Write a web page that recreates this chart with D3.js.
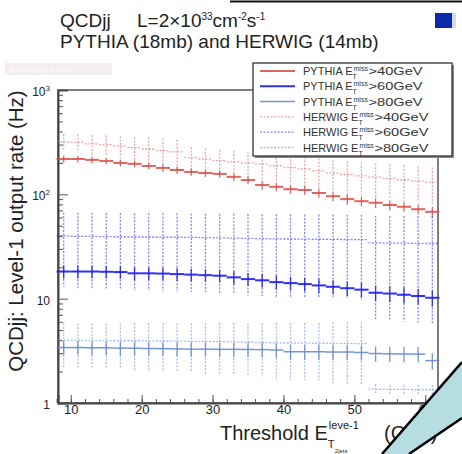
<!DOCTYPE html>
<html>
<head>
<meta charset="utf-8">
<script src="https://cdn.jsdelivr.net/npm/d3@7"></script>
<style>
  body { margin: 0; background: #fff; }
  svg { font-family: "Liberation Sans", Arial, sans-serif; }
</style>
</head>
<body>
<div id="chart"></div>
<script>
// bin centres (GeV), 2 GeV wide bins
const binCenters = [9, 11, 13, 15, 17, 19, 21, 23, 25, 27, 29, 31, 33, 35, 37, 39, 41, 43, 45, 47, 49, 51, 53, 55, 57, 59, 61];

const pythia40 = [218, 218, 214, 209, 200, 196, 187, 179, 171, 164, 160, 157, 147, 137, 123, 118, 112, 110, 103, 96, 90, 86, 83, 79, 76, 72, 68];
const pythia40Err = [16, 16, 16, 15, 15, 15, 14, 14, 14, 13, 13, 13, 12, 12, 12, 11, 11, 11, 10, 10, 10, 9, 9, 9, 8, 8, 8];
const herwig40 = [318, 315, 305, 300, 292, 280, 272, 262, 255, 225, 218, 210, 205, 200, 196, 188, 180, 175, 168, 160, 155, 150, 146, 142, 138, 134, 131];
const herwig40Err = [60, 62, 65, 68, 70, 75, 80, 80, 78, 60, 58, 58, 56, 56, 55, 55, 54, 54, 54, 53, 53, 52, 52, 52, 52, 50, 50];

const pythia60 = [18.2, 18.2, 18.2, 18.1, 18.0, 17.5, 17.5, 17.4, 17.2, 17.0, 16.8, 16.6, 16.0, 15.4, 15.0, 14.4, 14.1, 13.8, 13.4, 13.0, 12.6, 12.2, 11.4, 11.2, 10.9, 10.6, 10.2];
const pythia60Err = [2.6, 2.6, 2.5, 2.5, 2.5, 2.5, 2.4, 2.4, 2.4, 2.4, 2.3, 2.3, 2.3, 2.2, 2.2, 2.2, 2.1, 2.1, 2.1, 2.0, 2.0, 2.0, 1.9, 1.9, 1.9, 1.8, 1.8];
const herwig60 = [40, 39.5, 39.5, 39.3, 39.2, 39, 39, 38.8, 38.8, 38.6, 38.5, 38.3, 38, 37.8, 37.6, 37.4, 37.3, 37.2, 37.1, 37, 36.9, 36.8, 34.2, 34.1, 34, 33.9, 33.8];
const herwig60Err = [27, 27, 27, 27, 27, 27, 27, 27, 27, 27, 27, 27, 27, 27, 27, 27, 27, 27, 27, 27, 27, 27, 28, 28, 28, 28, 28];

const pythia80 = [3.4, 3.4, 3.38, 3.38, 3.36, 3.35, 3.33, 3.32, 3.3, 3.28, 3.28, 3.27, 3.27, 3.26, 3.25, 3.22, 3.1, 3.1, 3.1, 3.08, 3.08, 3.05, 2.98, 2.96, 2.95, 2.94, 2.55];
const pythia80Err = [0.5, 0.5, 0.5, 0.5, 0.5, 0.5, 0.5, 0.5, 0.5, 0.5, 0.5, 0.5, 0.5, 0.5, 0.5, 0.5, 0.5, 0.5, 0.5, 0.5, 0.5, 0.5, 0.5, 0.5, 0.5, 0.5, 0.45];
const herwig80 = [4.0, 3.98, 3.97, 3.96, 3.95, 3.95, 3.94, 3.93, 3.92, 3.9, 3.88, 3.87, 3.85, 3.82, 3.8, 3.78, 3.76, 3.75, 3.74, 3.73, 3.72, 3.7, 1.36, 1.35, 1.35, 1.34, 1.34];
const herwig80Err = [1.8, 1.8, 1.8, 1.8, 1.8, 1.9, 1.9, 1.9, 1.9, 1.9, 2.0, 2.0, 2.0, 2.0, 2.0, 2.1, 2.1, 2.1, 2.1, 2.2, 2.2, 2.2, 0.15, 0.15, 0.15, 0.15, 0.15];

const legendLabels = ['PYTHIA', 'PYTHIA', 'PYTHIA', 'HERWIG', 'HERWIG', 'HERWIG'];
const legendCuts = ['>40GeV', '>60GeV', '>80GeV', '>40GeV', '>60GeV', '>80GeV'];

const xTicks = [10, 20, 30, 40, 50, 60];
const yTicks = [1, 10, 100, 1000];
const yTickLabels = [['1', ''], ['10', ''], ['10', '2'], ['10', '3']];

function drawChart() {
  const width = 462, height = 454;
  const plot = {left: 58, right: 438, top: 90, bottom: 403};

  const svg = d3.select('#chart').append('svg')
      .attr('width', width).attr('height', height);

  const x = d3.scaleLinear().domain([8.2, 61.8]).range([plot.left, plot.right]);
  const y = d3.scaleLog().domain([1, 1000]).range([plot.bottom, plot.top]);

  // series: values, errors, colour, dashed?
  const series = [
    {v: pythia40, e: pythia40Err, color: '#d94a44', width: 2, dash: null, op: 0.85},
    {v: pythia60, e: pythia60Err, color: '#1a1af2', width: 2, dash: null, op: 0.9},
    {v: pythia80, e: pythia80Err, color: '#5f82cc', width: 1.5, dash: null, op: 0.85},
    {v: herwig40, e: herwig40Err, color: '#e06a6a', width: 1.3, dash: '2,1.5', op: 0.6},
    {v: herwig60, e: herwig60Err, color: '#3434ff', width: 1.3, dash: '2,1.5', op: 0.6},
    {v: herwig80, e: herwig80Err, color: '#6f90dd', width: 1.3, dash: '2,1.5', op: 0.6}
  ];

  // faint label top left
  svg.append('rect').attr('x', 5).attr('y', 63).attr('width', 107).attr('height', 12).attr('fill', '#f4eef1');
  svg.append('text').attr('x', 10).attr('y', 72).attr('font-size', 8).attr('font-weight', 'bold')
      .attr('fill', '#fbf8fa').text('Efficiency 2 Jets');

  // top decorations
  svg.append('line').attr('x1', 230).attr('x2', 462).attr('y1', 1.5).attr('y2', 1.5)
      .attr('stroke', '#111').attr('stroke-width', 2);
  svg.append('rect').attr('x', 435).attr('y', 13).attr('width', 17).attr('height', 15).attr('fill', '#0a2aa8');
  svg.append('rect').attr('x', 452).attr('y', 13).attr('width', 4).attr('height', 15).attr('fill', '#d8d8e0');

  // title
  const t1 = svg.append('text').attr('x', 60).attr('y', 27).attr('font-size', 19).attr('fill', '#222');
  t1.append('tspan').text('QCDjj');
  t1.append('tspan').attr('x', 137).text('L=2\u00d710');
  t1.append('tspan').attr('font-size', 10).attr('dy', -7).text('33');
  t1.append('tspan').attr('dy', 7).text('cm');
  t1.append('tspan').attr('font-size', 10).attr('dy', -7).text('-2');
  t1.append('tspan').attr('dy', 7).text('s');
  t1.append('tspan').attr('font-size', 10).attr('dy', -7).text('-1');
  svg.append('text').attr('x', 60).attr('y', 48).attr('font-size', 19).attr('fill', '#222')
      .text('PYTHIA (18mb) and HERWIG (14mb)');

  // frame
  svg.append('rect').attr('x', plot.left).attr('y', plot.top)
      .attr('width', plot.right - plot.left).attr('height', plot.bottom - plot.top)
      .attr('fill', 'none').attr('stroke', '#555').attr('stroke-width', 1.5);

  // x axis, ticks pointing inwards
  const minorX = d3.range(8, 62, 2);
  svg.append('g').attr('transform', 'translate(0,' + plot.bottom + ')')
      .call(d3.axisBottom(x).tickValues(minorX).tickSize(-4).tickFormat(''))
      .call(g => g.select('.domain').remove())
      .call(g => g.selectAll('line').attr('stroke', '#555'));
  const xAxis = svg.append('g').attr('transform', 'translate(0,' + plot.bottom + ')')
      .call(d3.axisBottom(x).tickValues(xTicks).tickSize(-8).tickPadding(5))
      .call(g => g.select('.domain').attr('stroke', '#444').attr('stroke-width', 2));
  xAxis.selectAll('line').attr('stroke', '#555');
  xAxis.selectAll('text').attr('font-size', 13).attr('fill', '#222')
      .attr('y', 2).attr('dy', '0.71em');

  // y axis (log)
  const minorY = [];
  [1, 10, 100].forEach(function(d) {
    for (var k = 2; k <= 9; k++) minorY.push(d * k);
  });
  svg.append('g').attr('transform', 'translate(' + plot.left + ',0)')
      .call(d3.axisLeft(y).tickValues(minorY).tickSize(-5).tickFormat(''))
      .call(g => g.select('.domain').remove())
      .call(g => g.selectAll('line').attr('stroke', '#555'));
  const yAxis = svg.append('g').attr('transform', 'translate(' + plot.left + ',0)')
      .call(d3.axisLeft(y).tickValues(yTicks).tickSize(-10).tickFormat(''))
      .call(g => g.select('.domain').attr('stroke', '#444').attr('stroke-width', 2));
  yAxis.selectAll('line').attr('stroke', '#555');
  yTicks.forEach(function(d, i) {
    const lab = svg.append('text').attr('x', 50).attr('y', y(d) + 6)
        .attr('text-anchor', 'end').attr('font-size', 12).attr('fill', '#222');
    lab.append('tspan').text(yTickLabels[i][0]);
    if (yTickLabels[i][1]) {
      lab.append('tspan').attr('font-size', 8).attr('dy', -5).text(yTickLabels[i][1]);
    }
  });

  // data: horizontal bin bars and vertical error bars
  const layer = svg.append('g');
  series.forEach(function(s) {
    const g = layer.append('g')
        .attr('stroke', s.color).attr('stroke-opacity', s.op)
        .attr('stroke-width', s.width).attr('stroke-dasharray', s.dash);
    g.selectAll('line.h').data(binCenters).enter().append('line')
        .attr('x1', d => x(d - 1)).attr('x2', d => x(d + 1))
        .attr('y1', (d, i) => y(s.v[i])).attr('y2', (d, i) => y(s.v[i]));
    g.selectAll('line.v').data(binCenters).enter().append('line')
        .attr('stroke-width', Math.min(s.width, 1.3))
        .attr('x1', d => x(d)).attr('x2', d => x(d))
        .attr('y1', (d, i) => y(s.v[i] + s.e[i]))
        .attr('y2', (d, i) => y(Math.max(1, s.v[i] - s.e[i])));
  });

  // legend
  const leg = svg.append('g');
  leg.append('rect').attr('x', 255).attr('y', 65).attr('width', 199).attr('height', 93).attr('fill', '#888');
  leg.append('rect').attr('x', 253).attr('y', 63).attr('width', 199).attr('height', 93)
      .attr('fill', '#fff').attr('stroke', '#333').attr('stroke-width', 1.3);
  series.forEach(function(s, i) {
    const cy = 71 + i * 15.3;
    leg.append('line').attr('x1', 260).attr('x2', 295).attr('y1', cy).attr('y2', cy)
        .attr('stroke', s.color).attr('stroke-opacity', s.op)
        .attr('stroke-width', s.width).attr('stroke-dasharray', s.dash);
    const base = leg.append('text').attr('x', 303).attr('y', cy + 4)
        .attr('font-size', 11).attr('fill', '#333').text(legendLabels[i] + ' E');
    const w = base.node().getComputedTextLength();
    leg.append('text').attr('x', 303 + w + 1).attr('y', cy)
        .attr('font-size', 7).attr('fill', '#333').text('miss');
    leg.append('text').attr('x', 303 + w).attr('y', cy + 8)
        .attr('font-size', 7).attr('fill', '#333').text('T');
    leg.append('text').attr('x', 303 + w + 16).attr('y', cy + 4)
        .attr('font-size', 11).attr('fill', '#333')
        .attr('textLength', 54).attr('lengthAdjust', 'spacingAndGlyphs').text(legendCuts[i]);
  });

  // y title
  svg.append('text').attr('transform', 'translate(23,231) rotate(-90)')
      .attr('text-anchor', 'middle').attr('font-size', 20.5).attr('fill', '#222')
      .text('QCDjj: Level-1 output rate (Hz)');

  // x title
  const xt = svg.append('text').attr('x', 220).attr('y', 440).attr('font-size', 20).attr('fill', '#222');
  xt.text('Threshold E');
  const xw = xt.node().getComputedTextLength();
  svg.append('text').attr('x', 220 + xw + 1).attr('y', 429).attr('font-size', 11).attr('fill', '#222').text('leve-1');
  svg.append('text').attr('x', 220 + xw).attr('y', 448).attr('font-size', 11).attr('fill', '#222').text('T');
  svg.append('text').attr('x', 220 + xw + 7).attr('y', 453).attr('font-size', 6).attr('fill', '#222').text('2jets');
  svg.append('text').attr('x', 384).attr('y', 440).attr('font-size', 20).attr('fill', '#222').text('(GeV)');

  // callout shape bottom right
  svg.append('path').attr('d', 'M382,454 L462,362 L462,418 L409,454 Z').attr('fill', '#b6dde1');
  svg.append('line').attr('x1', 382).attr('y1', 454).attr('x2', 462).attr('y2', 362)
      .attr('stroke', '#000').attr('stroke-width', 2.5);
  svg.append('line').attr('x1', 409).attr('y1', 454).attr('x2', 462).attr('y2', 418)
      .attr('stroke', '#000').attr('stroke-width', 2.5);
}

drawChart();
</script>
</body>
</html>
